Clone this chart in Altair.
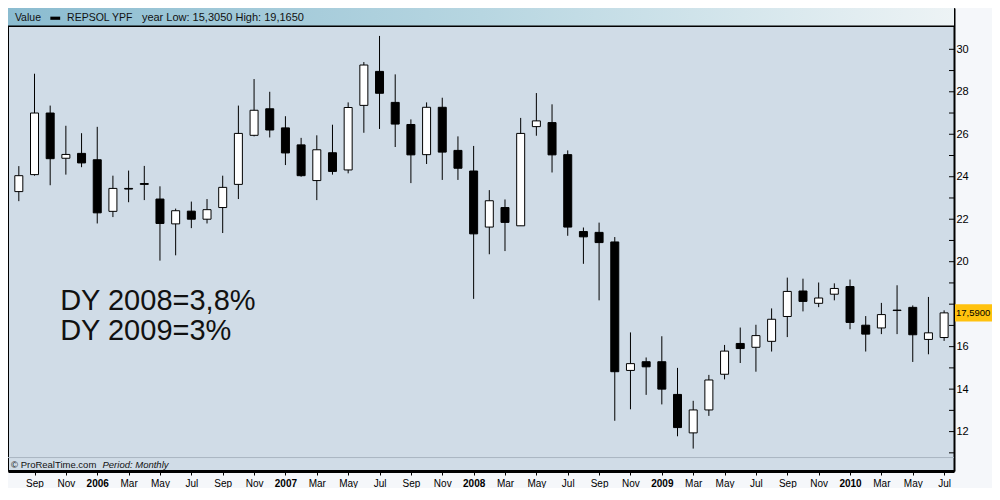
import json
import altair as alt
import pandas as pd

# ---------------- data (monthly candles Aug 2005 .. Jul 2010) ----------------
month_index = list(range(60))
opens = [23.3, 24.1, 27.0, 24.87, 25.1, 24.8, 22.37, 23.45, 23.68, 22.95, 21.78, 22.38, 22.0, 22.55, 23.64,
         25.95, 27.2, 26.3, 25.5, 23.82, 25.13, 24.32, 27.36, 28.96, 27.5, 26.46, 25.04, 27.27, 25.24, 24.27,
         21.63, 22.55, 21.69, 26.36, 26.55, 25.04, 21.42, 21.38, 20.93, 14.88, 15.29, 15.29, 13.75, 11.94, 13.02,
         14.7, 16.15, 15.97, 16.25, 17.42, 18.62, 18.04, 18.47, 18.83, 17.01, 16.88, 17.72, 17.85, 16.34, 16.43]
closes = [24.05, 27.0, 24.85, 25.05, 24.65, 22.3, 23.45, 23.42, 23.64, 21.8, 22.4, 22.0, 22.45, 23.5, 26.04,
          27.13, 26.2, 25.12, 24.05, 25.27, 24.25, 27.26, 29.26, 27.93, 26.48, 25.03, 27.27, 25.16, 24.4, 21.31,
          22.87, 21.85, 26.04, 26.63, 25.03, 21.63, 21.17, 20.9, 14.82, 15.2, 15.05, 14.0, 12.19, 13.02, 14.43,
          15.79, 15.91, 16.52, 17.29, 18.6, 18.13, 18.29, 18.74, 17.14, 16.59, 17.51, 17.70, 16.56, 16.65, 17.59]
highs = [24.5, 28.85, 27.35, 26.4, 26.05, 26.35, 24.05, 24.29, 24.51, 23.55, 22.5, 22.83, 22.95, 24.05, 27.35,
         28.6, 28.0, 26.85, 25.83, 25.95, 26.45, 27.5, 29.4, 30.63, 28.82, 26.7, 27.5, 27.72, 25.9, 25.45,
         23.37, 22.93, 26.77, 27.94, 27.41, 25.24, 21.61, 21.84, 21.16, 16.67, 15.49, 16.49, 15.0, 13.45, 14.67,
         16.08, 16.9, 17.03, 17.8, 19.25, 19.2, 19.02, 18.98, 19.16, 17.44, 18.06, 18.89, 17.94, 18.34, 17.71]
lows = [22.85, 24.05, 23.6, 24.1, 24.45, 21.8, 22.1, 22.8, 22.9, 20.05, 20.3, 21.58, 21.8, 21.35, 22.95,
        25.9, 25.85, 24.55, 24.0, 22.9, 24.1, 24.16, 26.07, 26.25, 25.4, 23.7, 24.6, 23.85, 23.85, 18.25,
        20.35, 20.5, 21.69, 25.93, 24.2, 21.22, 19.9, 18.18, 12.51, 13.05, 13.73, 13.28, 11.78, 11.2, 12.74,
        14.46, 15.23, 14.82, 15.77, 16.45, 17.66, 17.86, 18.18, 16.82, 15.77, 16.59, 16.59, 15.28, 15.64, 16.27]

tick_positions = list(range(1, 60, 2))
tick_labels = ["Sep", "Nov", "2006", "Mar", "May", "Jul", "Sep", "Nov", "2007", "Mar", "May", "Jul",
               "Sep", "Nov", "2008", "Mar", "May", "Jul", "Sep", "Nov", "2009", "Mar", "May", "Jul",
               "Sep", "Nov", "2010", "Mar", "May", "Jul"]
y_tick_values = list(range(11, 31))
y_hidden_label = 18  # covered by the last-price tag in the original

last_price = [17.59]
last_price_label = ["17,5900"]

header_value = "Value"
header_name = "REPSOL YPF"
header_range = "year Low: 15,3050 High: 19,1650"
note_line1 = "DY 2008=3,8%"
note_line2 = "DY 2009=3%"
copyright_text = "\u00a9 ProRealTime.com"
period_text = "Period: Monthly"

# ---------------- layout ----------------
W, H = 946, 463
FONT = "Liberation Sans"
sy = 463 / 482.0
sx = 946 / 961.0

df = pd.DataFrame({"m": month_index, "open": opens, "close": closes, "high": highs, "low": lows})
one = pd.DataFrame({"k": [0]})

xscale = alt.Scale(domain=[-0.69, 59.63], nice=False, zero=False, padding=0)
yscale = alt.Scale(domain=[10.145, 31.945], nice=False, zero=False, padding=0)

xaxis = alt.Axis(
    values=tick_positions,
    labelExpr=json.dumps(tick_labels) + "[floor((datum.value - 1) / 2)]",
    title=None, grid=False, domainColor="black", domainWidth=3,
    tickColor="black", tickSize=4, tickWidth=1,
    labelFont=FONT, labelFontSize=10, labelColor="black", labelPadding=3,
    labelFontWeight={"condition": {"test": "(datum.value - 5) % 12 == 0", "value": "bold"}, "value": "normal"},
    labelFlush=False, labelOverlap=False,
)
yaxis = alt.Axis(
    orient="right", values=y_tick_values,
    labelExpr=f"(datum.value % 2 == 0 && datum.value != {y_hidden_label}) ? datum.label : ''",
    ticks=False, grid=False, domainColor="black", domainWidth=2,
    labelFont=FONT, labelFontSize=11, labelColor="black", labelPadding=2, title=None,
    labelOverlap=False, labelFlush=False,
)

header = alt.Chart(one).mark_rect(
    color=alt.Gradient(gradient="linear",
                       stops=[alt.GradientStop(color="#8bbcd0", offset=0),
                              alt.GradientStop(color="#b7d6e1", offset=0.5),
                              alt.GradientStop(color="#edf3f5", offset=1)],
                       x1=0, x2=1, y1=0, y2=0)
).encode(x=alt.value(0), x2=alt.value(W), y=alt.value(0), y2=alt.value(19 * sy))

header_line = alt.Chart(one).mark_rule(color="black", strokeWidth=1.5).encode(
    x=alt.value(0), x2=alt.value(W), y=alt.value(19 * sy))

sep_line = alt.Chart(one).mark_rule(color="#a9b5c2", strokeWidth=1).encode(
    x=alt.value(0), x2=alt.value(W), y=alt.value(468 * sy))

wicks = alt.Chart(df).mark_rule(color="black", strokeWidth=1).encode(
    x=alt.X("m:Q", scale=xscale, axis=xaxis),
    y=alt.Y("low:Q", scale=yscale, axis=yaxis),
    y2="high:Q",
)
bodies = alt.Chart(df).mark_bar(size=8, stroke="black", strokeWidth=1).encode(
    x=alt.X("m:Q", scale=xscale, axis=xaxis),
    y=alt.Y("open:Q", scale=yscale, axis=yaxis),
    y2="close:Q",
    fill=alt.condition("datum.close >= datum.open", alt.value("white"), alt.value("black")),
)

ytick_df = pd.DataFrame({"v": y_tick_values})
yticks = alt.Chart(ytick_df).mark_rule(color="black", strokeWidth=1).encode(
    x=alt.value(W - 5), x2=alt.value(W),
    y=alt.Y("v:Q", scale=yscale, axis=yaxis),
)


def txt(s, x, y, size, weight="normal", style="normal", color="#111111"):
    return alt.Chart(one).mark_text(
        text=s, align="left", baseline="alphabetic", font=FONT, fontSize=size,
        fontWeight=weight, fontStyle=style, color=color,
    ).encode(x=alt.value(x), y=alt.value(y))


swatch = alt.Chart(one).mark_rect(color="black").encode(
    x=alt.value(43 * sx), x2=alt.value(53 * sx), y=alt.value(9 * sy), y2=alt.value(12.3 * sy))

texts = [
    txt(header_value, 7 * sx, 14 * sy, 10.5),
    txt(header_name, 60 * sx, 14 * sy, 10.5),
    txt(header_range, 136 * sx, 14 * sy, 11),
    txt(note_line1, 53 * sx, 314 * sy, 29),
    txt(note_line2, 53 * sx, 346 * sy, 29),
    txt(copyright_text, 3, 479 * sy, 9.5),
    txt(period_text, 96 * sx, 479 * sy, 9.5, style="italic"),
]

tag_df = pd.DataFrame({"price": last_price, "label": last_price_label})
tag = alt.Chart(tag_df).transform_calculate(
    lo="datum.price - 0.41", hi="datum.price + 0.41"
).mark_rect(color="#ffc20e").encode(
    x=alt.value(W + 1), x2=alt.value(W + 45),
    y=alt.Y("lo:Q", scale=yscale, axis=yaxis), y2="hi:Q",
)
tag_text = alt.Chart(tag_df).mark_text(
    align="left", baseline="middle", font=FONT, fontSize=9.5, color="black"
).encode(
    x=alt.value(W + 2), y=alt.Y("price:Q", scale=yscale, axis=yaxis), text="label:N"
)

chart = alt.layer(
    header, header_line, sep_line, wicks, bodies, yticks, swatch, *texts, tag, tag_text
).properties(
    width=W, height=H,
    autosize=alt.AutoSizeParams(type="none"),
    padding={"left": 0, "top": 0, "right": 38, "bottom": 17},
    background="#f5f7fa",
).configure_view(fill="#d0dce7", stroke="black", strokeWidth=1)

chart.save("out.html", embed_options={"renderer": "svg", "actions": False})
